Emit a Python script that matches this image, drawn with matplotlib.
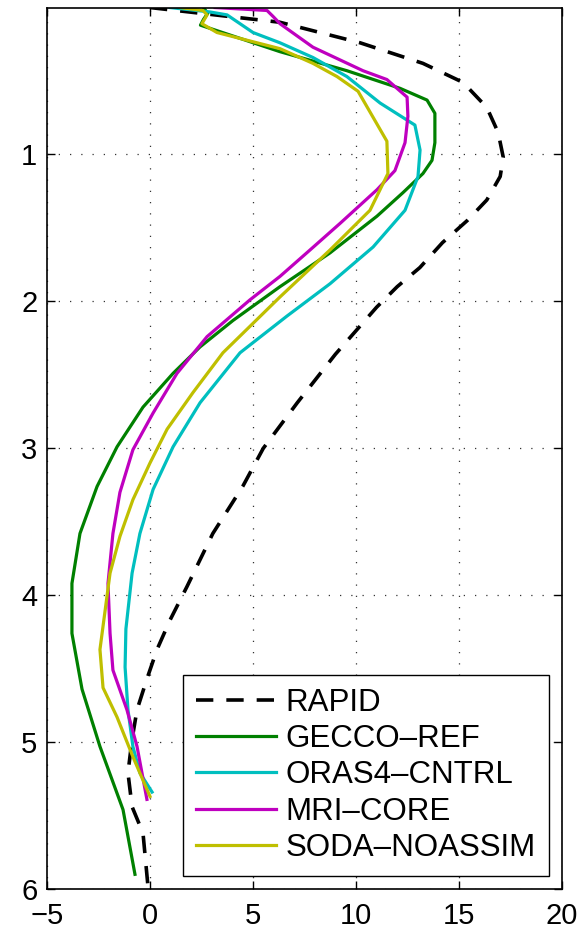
import numpy as np
import matplotlib
matplotlib.use('Agg')
import matplotlib.pyplot as plt

plt.rcParams['font.family'] = ['Liberation Sans', 'DejaVu Sans']

# overturning profiles (Sv) against depth (km)
rapid_z = [0.0, 0.10, 0.24, 0.38, 0.51, 0.68, 0.85, 1.02, 1.15, 1.31, 1.45, 1.60,
           1.77, 1.90, 2.04, 2.36, 2.69, 3.00, 3.26, 3.58, 3.94, 4.17, 4.37, 4.57,
           4.78, 4.98, 5.21, 5.44, 5.62, 5.98]
rapid_v = [0.0, 6.3, 10.2, 13.25, 15.2, 16.35, 16.9, 17.15, 17.0, 16.35, 15.4, 14.2,
           13.1, 12.0, 11.0, 9.0, 7.15, 5.5, 4.5, 3.05, 1.8, 0.97, 0.34, -0.15,
           -0.63, -0.87, -1.07, -0.87, -0.34, -0.1]

gecco_z = [0.0, 0.04, 0.08, 0.12, 0.30, 0.43, 0.55, 0.63, 0.72, 0.92, 1.04, 1.13,
           1.26, 1.42, 1.67, 1.90, 2.13, 2.31, 2.49, 2.72, 2.99, 3.26, 3.58, 3.92,
           4.26, 4.64, 5.03, 5.46, 5.90]
gecco_v = [2.6, 2.8, 2.6, 2.45, 6.3, 9.56, 12.14, 13.45, 13.83, 13.83, 13.69, 13.25,
           12.28, 11.02, 8.74, 6.31, 4.03, 2.43, 1.12, -0.34, -1.6, -2.57, -3.4, -3.79,
           -3.79, -3.3, -2.43, -1.31, -0.73]

oras_z = [0.0, 0.03, 0.05, 0.17, 0.24, 0.34, 0.47, 0.65, 0.80, 0.97, 1.15, 1.38,
          1.63, 1.88, 2.10, 2.35, 2.69, 2.99, 3.28, 3.58, 3.85, 4.23, 4.49, 4.78,
          5.03, 5.21, 5.34]
oras_v = [0.97, 2.91, 3.74, 5.0, 6.31, 7.91, 9.56, 11.17, 12.86, 13.11, 13.01, 12.38,
          10.83, 8.74, 6.65, 4.37, 2.43, 1.12, 0.15, -0.49, -0.87, -1.17, -1.21, -1.07,
          -0.83, -0.49, 0.1]

mri_z = [0.0, 0.02, 0.06, 0.11, 0.27, 0.43, 0.49, 0.61, 0.74, 0.92, 1.11, 1.24,
         1.47, 1.65, 1.83, 1.99, 2.24, 2.49, 2.76, 3.01, 3.30, 3.58, 3.92, 4.26,
         4.51, 4.78, 5.03, 5.21, 5.39]
mri_v = [3.16, 5.68, 5.97, 6.31, 7.91, 10.34, 11.5, 12.48, 12.52, 12.38, 11.89, 11.02,
         9.22, 7.77, 6.31, 4.85, 2.77, 1.31, 0.15, -0.83, -1.46, -1.8, -2.04, -1.94,
         -1.8, -1.12, -0.63, -0.39, -0.15]

soda_z = [0.0, 0.02, 0.05, 0.11, 0.17, 0.28, 0.38, 0.47, 0.57, 0.91, 1.13, 1.38,
          1.65, 1.97, 2.35, 2.62, 2.87, 3.10, 3.35, 3.60, 3.85, 4.37, 4.63, 4.83,
          5.10, 5.37]
soda_v = [1.46, 2.57, 2.77, 2.52, 3.25, 6.31, 7.91, 9.08, 10.1, 11.5, 11.55, 10.68,
          8.74, 6.31, 3.54, 2.09, 0.83, 0.0, -0.83, -1.46, -1.94, -2.43, -2.28, -1.6,
          -0.83, 0.0]

fig = plt.figure(figsize=(5.84, 9.31), dpi=100)
ax = fig.add_axes([0.0805, 0.0451, 0.8818, 0.9468])

ax.plot(rapid_v, rapid_z, color='k', lw=2.6, dashes=(4.8, 3.6), label='RAPID')
ax.plot(gecco_v, gecco_z, color='#008000', lw=2.3, label='GECCO\u2013REF')
ax.plot(oras_v, oras_z, color='#00bfbf', lw=2.3, label='ORAS4\u2013CNTRL')
ax.plot(mri_v, mri_z, color='#bf00bf', lw=2.3, label='MRI\u2013CORE')
ax.plot(soda_v, soda_z, color='#bfbf00', lw=2.3, label='SODA\u2013NOASSIM')

ax.set_xlim(-5, 20)
ax.set_ylim(6, 0)
ax.set_xticks([-5, 0, 5, 10, 15, 20])
ax.set_yticks([1, 2, 3, 4, 5, 6])
ax.grid(True, color='#333333', lw=0.9, linestyle=(0, (1, 8)))
ax.tick_params(direction='in', length=6, width=1, labelsize=21,
               top=True, right=True)
ax.tick_params(axis='x', pad=9)
ax.tick_params(axis='y', pad=7)
for s in ax.spines.values():
    s.set_linewidth(1.2)

leg = ax.legend(loc='lower right', fontsize=22.5, fancybox=False, framealpha=1,
                edgecolor='k', handlelength=2.55, handletextpad=0.3,
                labelspacing=0.2, borderaxespad=0.42, borderpad=0.42)
leg.get_frame().set_linewidth(1.0)

fig.savefig('out.png', dpi=100)
